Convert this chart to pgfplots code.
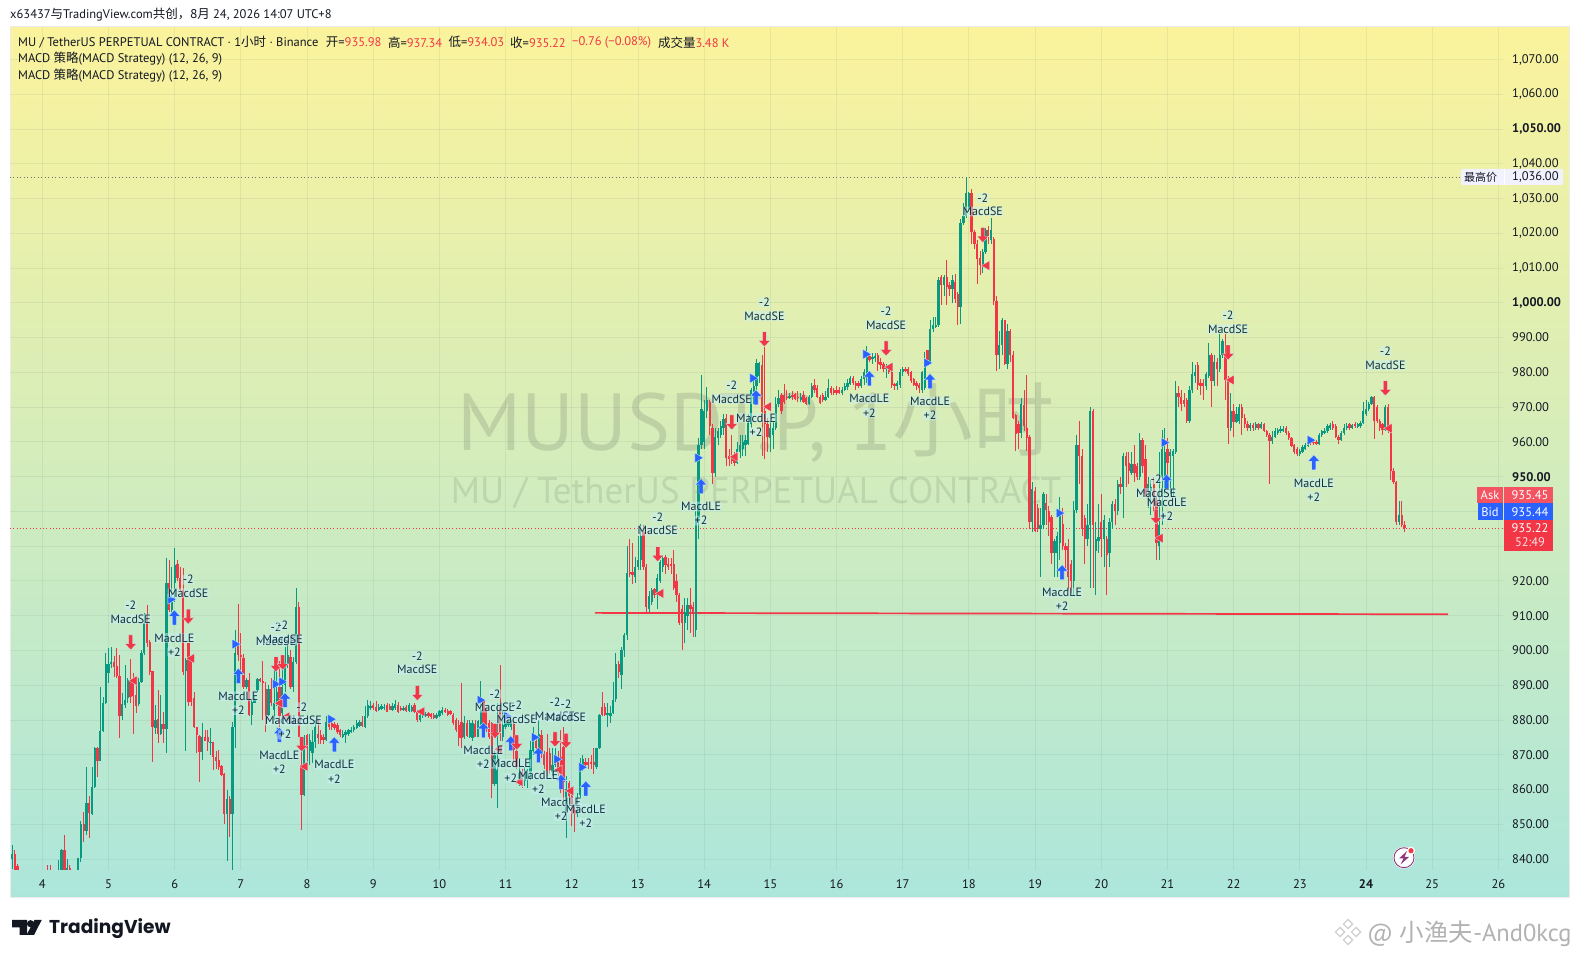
\documentclass[border=0pt]{standalone}
\usepackage{fontspec}
\usepackage{pgfplots}
\usepackage{pgfplotstable}
\pgfplotsset{compat=1.18}
\setmainfont{PT Sans}
\newfontfamily\cjk{Noto Sans CJK SC}
\newfontfamily\logofont{Poppins}
\definecolor{cup}{HTML}{089981}
\definecolor{cdn}{HTML}{F23645}
\definecolor{gtop}{HTML}{FBF39C}
\definecolor{gbot}{HTML}{ACE6DB}
\definecolor{ink}{HTML}{131722}
\definecolor{labink}{HTML}{12303F}
\definecolor{blu}{HTML}{2962FF}
\definecolor{halo}{HTML}{C9EFF2}
\pgfdeclareplotmark{uparr}{%
 \pgfpathmoveto{\pgfqpoint{0pt}{7.5pt}}\pgfpathlineto{\pgfqpoint{5.8pt}{1.2pt}}\pgfpathlineto{\pgfqpoint{2pt}{1.2pt}}%
 \pgfpathlineto{\pgfqpoint{2pt}{-7.5pt}}\pgfpathlineto{\pgfqpoint{-2pt}{-7.5pt}}\pgfpathlineto{\pgfqpoint{-2pt}{1.2pt}}%
 \pgfpathlineto{\pgfqpoint{-5.8pt}{1.2pt}}\pgfpathclose\pgfusepathqfillstroke}
\pgfdeclareplotmark{dnarr}{%
 \pgfpathmoveto{\pgfqpoint{0pt}{-7.5pt}}\pgfpathlineto{\pgfqpoint{5.8pt}{-1.2pt}}\pgfpathlineto{\pgfqpoint{2pt}{-1.2pt}}%
 \pgfpathlineto{\pgfqpoint{2pt}{7.5pt}}\pgfpathlineto{\pgfqpoint{-2pt}{7.5pt}}\pgfpathlineto{\pgfqpoint{-2pt}{-1.2pt}}%
 \pgfpathlineto{\pgfqpoint{-5.8pt}{-1.2pt}}\pgfpathclose\pgfusepathqfillstroke}
\pgfplotstableread{
t o h l c
85 840 844 837 841.5
86 841.5 842.5 834 835
87 838 838.7 830 832
98 836 838.2 834 835
99 836 838.2 834 835
102 835 839.7 834 836.8
103 836.8 842.9 835 842.5
104 842.5 846.9 835 836.5
105 836.5 840 834 837.5
106 837.5 838.3 834 835
109 835 840.3 833 840.3
110 840.3 850.8 839 850.2
111 850.2 853.6 845 848.1
112 848 866.5 847 856
113 856 858 846 853.1
114 853 866.5 852.6 860.8
115 860.8 872.3 860.3 871.8
116 871.8 872.3 863.7 868.3
117 868.3 889.6 868.3 876.9
118 876.9 886.7 876.6 884.8
119 884.8 899.2 884.7 896
120 893.4 900.6 890.5 896
121 896 901 895 896.8
122 896.8 898.4 892.4 895.3
123 895.5 900.6 892 892.6
124 892.6 898.7 874.7 881.2
125 881.2 887.7 880 884.6
126 884.2 895.8 883.3 885.7
127 886.2 892 885 891.5
128 891.5 897.4 885 886.7
129 891.5 893.4 876.1 886.9
130 887.2 890.5 881.9 884.1
131 884.7 892 884 891
132 891 900 890.5 899.4
133 899.2 910.9 898.7 907.8
134 907.8 913 901 902
135 902.5 903 893 893.7
136 894.2 894.2 868 878.1
137 877.8 884.3 876.1 879.9
138 880.3 888.6 873.3 876
139 876 887.2 875.7 878.8
140 878.8 882.4 873.3 877.4
141 877.4 926.5 870.4 919.3
142 919.3 926 911 911.6
143 911.6 924 911 914
144 919.3 929.4 914 924.6
145 924.8 926 920 920.7
146 920.7 924 917 917.4
147 917.4 923.6 893 893.9
148 894 897.7 871.2 897.2
149 902 902 884 885.3
150 897 898 884 885.3
151 886.2 888.1 877.6 877.9
152 878 878 870.4 875.7
153 875.4 875.7 862.2 870.9
154 870.9 879 868.5 875.2
155 875.2 877 874 874
156 875 877 871 873.6
157 873.5 877.8 870 873.8
158 873.8 873.8 865.6 869.2
159 869.4 871 866 868.3
160 868.5 871.3 865.6 866.5
161 866.8 867 864 864.2
162 864.4 864.6 850.2 853
163 853 859.8 839.5 857.2
164 857.2 858 846.4 853
165 853 879.5 836 878.1
166 878.1 905.9 871.8 899.2
167 901.5 913.4 897 898.7
168 898.7 905 893 898
169 897.7 899 889 889.6
170 889.6 892 889 891.5
171 891.5 893.4 881 881.4
172 881.4 885.7 878.5 885.3
173 885 887 885 886
174 888.6 892 888 891.7
175 891.7 892 891 891.3
176 891.2 897 880 890.7
177 889 891 876.4 881.4
178 881.4 890 881 889
179 889 892 884 884.8
180 883 895 880 885
181 885 898 884 888
182 889.6 897 878 881
183 882 895 879 889.6
184 890 901 888 896.3
185 896 903 895 898.7
186 898 900 889 889.6
187 889.6 898 888 896.8
188 896.8 917.9 896 912.6
189 912.6 914 876 875
190 867 875 848.3 858.4
191 858.4 875.7 858 875
192 875.7 876 866 871.8
193 871 876 867 874.2
194 870.4 877 867.5 873.8
195 873.8 880 872 878
196 876.1 880 873 874.7
197 875.6 877 873 874.2
198 875 876 873 874.2
199 874.2 881 874 879.5
200 879.5 881 877 877.9
201 879 880 877 877.9
202 878.8 879.5 877 877.6
203 878.6 879 876 876.6
204 877 877.5 875 875.7
205 875.2 877 874.7 876
206 875.6 877 873.5 876.4
207 876 877.5 875.5 877
208 876.6 878 876.2 877.2
209 877 878.5 876.5 878
210 877.8 880 877.5 879
211 878.3 880 878 879.4
212 879.5 881 878 878.3
213 878.1 884 878 881
214 881 885.6 880.5 884.3
215 883.3 885.5 883 884
216 884.3 885 883 883.3
217 883.8 885.5 882.2 882.7
218 883 884.5 882.7 883.6
219 883.2 884.6 882.9 884
220 883.4 884.5 883 883.8
221 884.4 885 882.2 882.4
222 884 884.5 882.8 883
223 883 885 882.7 884
224 883.5 885.7 883 884.5
225 884.4 885.2 882 882.3
226 883.5 884 882.5 882.8
227 882.8 884 882.5 883.5
228 883.7 884.2 882.4 882.7
229 882.7 885 882.4 884.4
230 882.6 884.2 882.3 883.8
231 884.4 885 882 882.4
232 882.4 883 879.5 880
233 880 881.8 879.5 881.4
234 881 882 880.6 881.6
235 881.2 882.2 880.8 881.8
236 882 882.4 880.6 881
237 881.6 882 880.3 880.9
238 881.5 882 880.2 880.5
239 880.5 882 880.2 881.5
240 881 883 880.8 882.5
241 882 883.8 881.5 883
242 882.9 883.4 882 882.3
243 882.7 883.2 881.2 881.5
244 882.5 883 881.4 881.7
245 881.5 882 878.6 879
246 880 880.5 876.5 877
247 878.5 880 872.5 874.7
248 879.4 890.6 872 874.7
249 875 881 874.6 879
250 879 880 875 875.5
251 875.2 880 875 879
252 874.7 880 874 879
253 878.8 880 875 875.2
254 875 880 875 879.6
255 878.8 891.3 878.5 883
256 885.4 886 874.7 875
257 883 883.5 876.5 877
258 879 880 874.5 875
259 879 879.5 857.6 861.7
260 861.7 871 861 870
261 861.7 885 854.6 865.6
262 883.7 895.8 874 876
263 875 883 874 878.6
264 878 881 877.5 879.3
265 878.5 880 878 879.5
266 878 880 877 879
267 878.8 880 868 871.4
268 871 871.5 866 866.6
269 862.5 866.5 861 864.6
270 865 866 860.5 862.5
271 862.5 866.5 861 865
272 863 866 860.5 864.5
273 865 874 862.7 871.4
274 871 878 870 875
275 874 875 871.5 872
276 870 880 869.8 876
277 875.6 877 869 870.4
278 870.4 871 866 867
279 870.9 876 864 865.1
280 870.4 872 864.5 865.6
281 865 872 864 867
282 867 872 866.5 870
283 868 871 864 864.7
284 869.4 877 859 860.3
285 872.3 878 857 862.2
286 852.6 864 846 860
287 861.8 862.5 857 858
288 858 859 849.5 853
289 854 855 847.7 853
290 853 859 852 853.7
291 858.4 869 857.4 866.1
292 866 870 865.3 868.9
293 868 869 866.5 867
294 867.8 869 866 867
295 868 870 866 867.2
296 868 872 864.4 867
297 866.5 872 866 871.8
298 871.8 881.8 871.5 881.4
299 883.8 888 881 881.4
300 883.8 885 881 881.4
301 881.4 885 878 882
302 881 884 879 882
303 882 891 881.7 885.7
304 886 899.4 885.3 896
305 896 897 892 893.9
306 893 901 889 900
307 900 905 898 904.4
308 904.4 930 903 922.2
309 922.5 932 921 922
310 922.5 930.8 919 921.6
311 921 927 919.5 924
312 924 933 923 926
313 926 936.5 923 933
314 934 936 923 924
315 924 925 910.8 912.6
316 912 917 911 915.6
317 914 918 913 917.5
318 917.6 918 915 916
319 916 922 912 920.8
320 920 926 919.5 925.5
321 924 927.5 922.5 926.5
322 927 927.5 922 924.5
323 925 926.5 923 924
324 925 926.5 922 924.4
325 925 929 917.5 918
326 920 922 914 916
327 916 916.5 907.3 908
328 912 913 900 908
329 908 915 902 911
330 910 915 906 913
331 913 918 905 912
332 912.5 914 904 911
333 906 940 904 938
334 938 961 932 959
335 959 979.3 958 969.5
336 960 972 958 969
337 969 975.9 967 972
338 971.5 972 962 964.5
339 964 965 948 951
340 951 964 950 961.3
341 961 964 959 963
342 962 966 961 964.5
343 964 968 962 966.5
344 967 968 953 955.5
345 956 958 953 955
346 955.5 962 953.5 954.5
347 955 957 953 954
348 954 960 953.6 958
349 957 962 955.5 959
350 958 962 956 960
351 959 962 956 960.5
352 959.5 968 959 965.5
353 965 975.5 964 975
354 972 979 971 976
355 976 983.8 975 982.6
356 979 983 977 982.6
357 982 985 956 968.5
358 969 987.4 955 965
359 965 967 957 961.5
360 961 966 957.2 964
361 962 966 958 964
362 964 973 963.5 971
363 971 975 970 972.5
364 973.5 974 968 969
365 973.5 976.7 971 971.5
366 973 975 972 972.6
367 972.6 974 972.2 973.2
368 973.5 974.5 972 972.8
369 973.7 974.2 972 972.4
370 973 974.5 971.5 972.5
371 972 974 971.5 973
372 973.5 974.5 971.3 971.6
373 972.5 973 970.7 971
374 971 973.5 970.5 973
375 973 977 972.5 976
376 976.5 978 974 975
377 975.5 976.5 972.5 973
378 973 973.5 971 971.2
379 973.5 974 971.5 972
380 972 974.5 971.7 973
381 973 978 972.5 975.5
382 975.5 976 973.5 974
383 975 975.6 973.6 974
384 975 976 973.5 974
385 975 975.8 973.7 974
386 974 975.8 973.5 975
387 975 977 974.5 976
388 975.8 978 975 977
389 976.7 979 976.5 978.5
390 978.5 979 976.5 976.8
391 977 977.5 975 976
392 977 977.5 975.5 976
393 976 979 975.5 978.2
394 978 981 976.5 980
395 980 987.5 977 984.4
396 984.8 985.5 983 983.5
397 983.7 985.5 982.5 984.5
398 984 985.6 983 984.6
399 985 985.5 980.5 982.5
400 983 984 981 982
401 982.5 983 980 981
402 981 982.5 978.5 981.8
403 981.5 982 979.5 980
404 980 981 975.5 976.5
405 976.7 977 975 976
406 976 977.5 974.8 976.8
407 976.5 981 975.5 980
408 980 981.5 979 981
409 981 981.5 980 980.5
410 981 981.5 979 979.5
411 980 980.5 977 977.5
412 978 978.5 976 976.5
413 977 977.5 975 976
414 976.5 977 974 975.5
415 975 980.5 974 980
416 975.4 985.8 975 983.7
417 986.5 986.5 983 983.6
418 983 995 983 992.4
419 992.4 996 991.5 993.5
420 993 996 992.8 993.7
421 993.6 1007.5 993 1006.6
422 1007.4 1008 999.5 1005
423 1005 1008 1002 1007.5
424 1007.5 1012.3 999.5 1004.5
425 1005 1006 1002 1004
426 1004 1008 1000 1006.7
427 1006 1008.2 1000 1001
428 1002.4 1003 993.7 998.7
429 998.7 1024 994 1023
430 1023 1028.6 1022.5 1025
431 1025 1036 1024.5 1031.6
432 1027 1032 1026 1031.6
433 1031.6 1032.8 1017 1020.4
434 1020.5 1021 1015.5 1016.8
435 1017 1018 1005.5 1012.5
436 1013 1015 1008 1011
437 1010.8 1015.5 1008.5 1014.7
438 1014.5 1021.5 1014 1021
439 1021 1022 1017 1019
440 1018 1024.5 1017 1021
441 1018.5 1019 999.5 1000.6
442 1000.6 1002 980.5 985
443 985 992 981 988
444 988 995.5 985 995
445 995 995 982 982.5
446 982.5 994 981 992
447 992 992.5 983 985
448 985 986 966.5 967
449 967.7 968 957.5 962.4
450 965 966 958 962.5
451 962.5 972.5 961 971
452 970.5 975 963 964.5
453 964 979.2 957.5 961
454 961.5 962 935 937
455 937 948.5 934 946.5
456 946 947 934 934.5
457 941 942 934 934.8
458 935 941 921 936
459 936 945.5 935 945
460 942.5 945 936 940.5
461 940 941.5 933 937
462 938.5 939 925 928
463 928 932 921 931.5
464 928 934 921 933
465 931 944 926 939
466 936.5 941 929 930
467 930 931 923 929
468 930 932 917.5 921
469 925 926 916.5 920
470 920 943 916 940.5
471 940.5 962 939.5 959
472 959 966 948 956
473 956 958 933 935
474 938 939 925 932
475 932 942 930 936
476 936 970 918 969
477 969 969.5 918 936
478 928.5 937 916 932
479 931.5 942 928 932.5
480 937 945 927 932
481 932 939 924 937.5
482 932 933 916 927.5
483 928 938 924 937
484 937 943 935 942
485 942 943.5 936 940
486 940 949 939 948
487 948 950 945 947
488 947 956.8 938 956
489 956 957 947 953
490 954 957 948 951.5
491 951 957 950.5 953.5
492 953.5 959 948.5 951
493 953 954 949 950
494 950 962.5 949 960.5
495 960.5 961 951 953
496 955 959 944 945
497 946 950 941 948
498 946 949 939 947
499 948 950 940 942
500 943 944 926 931
501 930 957 926 936
502 950 963.5 936 958
503 950 964 945 957
504 958 961 948 954
505 956 958 945 957
506 956 958 944 957.5
507 957 977.5 956.5 974
508 974 976 970 973
509 973 975 969 971
510 972 974 970 971
511 972 972.5 965.5 966
512 966 976 965.5 975
513 975 983 974 979.5
514 979 982 977 980
515 982 983 975 976.5
516 977 978 973.5 976
517 977 978 972 976
518 976 980 975 979.5
519 979 988.5 978.5 985
520 985 985.5 970 977.5
521 977.5 985 976 983
522 983 984 976 981
523 981 991 980 985
524 985 989.7 984 989
525 985 991 972 977.8
526 977.8 979 959.5 964
527 964 974 963 969
528 969 971 961.5 965.8
529 965.8 970 965.5 968
530 966 971 965 970
531 970 971 962 967
532 967 968 964 965
533 965 966 963 964
534 964 965.5 963 964.8
535 964.8 965.5 963 964
536 964 965.8 963.5 965
537 965 965.5 963.5 964
538 964 965.7 963.7 965
539 965 965.5 962.7 963
540 963 963.5 961.5 962
541 962 962.5 947.8 960.2
542 960.2 963 959.5 961.5
543 961.5 964 961 963
544 962.5 964 962 963.5
545 963 964.5 962.5 963.7
546 963.2 964.7 962.7 963.8
547 964 964.5 962 962.5
548 962.5 963 960.5 961
549 961 961.5 958.5 958.8
550 959 959.5 956.5 957
551 958 958.5 956 956.5
552 956.5 958 956 957.5
553 957 959 956.8 958.5
554 958 959.8 957.8 959
555 958.8 960.5 958.5 960
556 960 960.6 959.2 959.7
557 960 960.6 959.2 959.6
558 960 960.5 959 959.3
559 959.3 962.5 959 962
560 962 963.5 961.5 963
561 962.5 964 962.3 963
562 963 965 962.5 964.5
563 964 965.5 963.5 964.8
564 965 966 963.5 964
565 964.5 965 961 961.5
566 961.5 962 959.5 960.5
567 960.5 963 960.3 962.5
568 962.5 965 962 964
569 964 965.5 963.5 964.6
570 965 965.5 963.5 964
571 964 965 963.7 964.8
572 965 965.7 964 964.5
573 964.4 965.5 964 965
574 964.5 966 964 965.5
575 965.5 971.5 965 969
576 968 972 967.5 969.5
577 969.5 971.5 969 971
578 971 973.2 970.5 973
579 973 973.3 960.9 966
580 970 970.5 965.5 966
581 966 966.5 963 964
582 965 965.5 962 963.5
583 963.5 970.5 963 970
584 970 970.8 962.5 963
585 963 963.5 949 951.7
586 951.7 952.5 947.8 948.4
587 948.4 948.8 936 937
588 937 943 936 939
589 939 943 935.5 936
590 935.98 937.34 934.03 935.22
}\candles
\pgfplotstableread{
d p
5.995 909.5
6.962 892.7
7.667 885.7
7.581 875.7
8.412 873
10.664 877.1
11.078 873.3
11.495 869.9
11.838 862.2
12.211 860.3
13.953 947.3
14.784 972.8
16.496 978.3
17.413 977.5
19.408 922.5
20.99 948.5
23.211 954.1
}\longs
\pgfplotstableread{
d p
5.336 902.3
6.206 909.7
7.531 896
7.632 896.5
7.92 873
9.666 887.7
10.84 876.8
11.168 873.5
11.747 874.4
11.913 874
13.299 927.7
14.417 965.6
14.91 989.5
16.749 986.9
18.21 1019.5
20.829 938.5
21.916 985.7
24.293 975.4
}\shorts
\pgfplotstableread{
d p
6.912 901.8
5.94 914.7
7.521 890.3
7.617 891
7.581 876.6
8.358 880.2
10.614 885.7
11.017 881.1
11.434 875
11.773 868.7
12.15 866.4
13.903 955.4
14.734 978.3
16.442 985.2
17.364 982.7
19.363 939.5
20.949 959.8
23.155 960.5
}\bluetri
\pgfplotstableread{
d p
5.39 891.3
6.257 897.7
7.592 884.8
7.693 880.9
7.969 866.6
9.733 882.4
10.905 871.6
11.218 862.2
11.812 865.6
11.984 859.6
13.344 916.4
14.467 955.7
14.97 970.1
16.809 981.5
18.27 1010.7
20.889 932.3
21.962 977.8
24.349 963.9
}\redtri
\newcommand\tf{\fontsize{12}{14}\selectfont}
\newcommand\hf{\fontsize{12.5}{14}\selectfont}
\tikzset{siglab/.style={font=\tf,text=labink,anchor=center,fill=halo,fill opacity=.5,text opacity=1,inner sep=.6pt,rounded corners=1pt}}
\begin{document}
\begin{tikzpicture}[x=1pt,y=1pt]
\path[use as bounding box,fill=white] (0,0) rectangle (1579,958);
\shade[top color=gtop,bottom color=gbot,draw=black!8,line width=.8pt] (10,60.3) rectangle (1569.3,931.3);
% watermark
\node[anchor=center,inner sep=0,text=black!75,opacity=.16,font=\fontsize{81}{90}\selectfont] at (756,535) {MUUSDT.P, 1{\cjk 小时}};
\node[anchor=center,inner sep=0,text=black!75,opacity=.13,font=\fontsize{37}{40}\selectfont] at (756,465) {MU / TetherUS PERPETUAL CONTRACT};
\begin{axis}[at={(10pt,88.3pt)},anchor=south west,scale only axis,width=1493pt,height=843pt,
 xmin=3.512,xmax=26.07,ymin=836.92,ymax=1079.44,
 xtick={4,5,...,26},
 xticklabels={4,5,6,7,8,9,10,11,12,13,14,15,16,17,18,19,20,21,22,23,\textbf{24},25,26},
 ytick={840,850,...,1070},
 yticklabels={840.00,850.00,860.00,870.00,880.00,890.00,900.00,910.00,920.00,{},{},\textbf{950.00},960.00,970.00,980.00,990.00,\textbf{{1,000.00}},{1,010.00},{1,020.00},{1,030.00},{1,040.00},\textbf{{1,050.00}},{1,060.00},{1,070.00}},
 yticklabel pos=right,
 axis line style={draw=none},major tick length=0pt,
 grid=major,grid style={draw=black!45!gbot,opacity=.11,line width=.9pt},
 tick label style={font=\hf,text=ink,inner sep=0pt},
 xticklabel style={anchor=center,yshift=-14.5pt},
 yticklabel style={anchor=west,xshift=9pt},
 unbounded coords=discard,
 every axis plot/.append style={forget plot}]
% dotted reference lines
\addplot[black!55,line width=.7pt,dash pattern=on .9pt off 2.6pt] coordinates {(3.512,1036) (26.07,1036)};
\addplot[cdn,line width=.8pt,dash pattern=on .9pt off 2.4pt] coordinates {(3.512,935.22) (26.07,935.22)};
% horizontal level
\addplot[cdn,line width=1.7pt] coordinates {(12.35,910.8) (25.24,910.4)};
% wicks
\addplot[draw=none,mark=none,error bars/.cd,y dir=both,y explicit,error mark=none,error bar style={draw=cup,line width=.85pt}]
 table[x expr=\thisrow{t}/24,y expr={\thisrow{c}>=\thisrow{o}?\thisrow{o}:nan},y error plus expr=\thisrow{h}-\thisrow{o},y error minus expr=\thisrow{o}-\thisrow{l}] {\candles};
\addplot[draw=none,mark=none,error bars/.cd,y dir=both,y explicit,error mark=none,error bar style={draw=cdn,line width=.85pt}]
 table[x expr=\thisrow{t}/24,y expr={\thisrow{c}<\thisrow{o}?\thisrow{o}:nan},y error plus expr=\thisrow{h}-\thisrow{o},y error minus expr=\thisrow{o}-\thisrow{l}] {\candles};
% bodies
\addplot[draw=none,mark=none,error bars/.cd,y dir=plus,y explicit,error mark=none,error bar style={draw=cup,line width=2.3pt}]
 table[x expr=\thisrow{t}/24,y expr={\thisrow{c}>=\thisrow{o}?\thisrow{o}:nan},y error plus expr={max(\thisrow{c}-\thisrow{o},0.3)},y error minus expr=0] {\candles};
\addplot[draw=none,mark=none,error bars/.cd,y dir=minus,y explicit,error mark=none,error bar style={draw=cdn,line width=2.3pt}]
 table[x expr=\thisrow{t}/24,y expr={\thisrow{c}<\thisrow{o}?\thisrow{o}:nan},y error plus expr=0,y error minus expr={max(\thisrow{o}-\thisrow{c},0.3)}] {\candles};
% signal marks
\addplot[only marks,mark=triangle*,mark size=5.6pt,mark options={rotate=-90,fill=blu,draw=halo,line width=.3pt}] table[x=d,y=p] {\bluetri};
\addplot[only marks,mark=triangle*,mark size=5.6pt,mark options={rotate=90,fill=cdn,draw=halo,line width=.3pt}] table[x=d,y=p] {\redtri};
\addplot[only marks,mark=uparr,mark options={fill=blu,draw=halo,line width=.3pt}] table[x=d,y=p] {\longs};
\addplot[only marks,mark=dnarr,mark options={fill=cdn,draw=halo,line width=.3pt}] table[x=d,y=p] {\shorts};
% signal labels
\addplot[draw=none,mark=none,nodes near coords={MacdLE},every node near coord/.style={siglab,yshift=-20.5pt}] table[x=d,y=p] {\longs};
\addplot[draw=none,mark=none,nodes near coords={+2},every node near coord/.style={siglab,yshift=-34.5pt}] table[x=d,y=p] {\longs};
\addplot[draw=none,mark=none,nodes near coords={MacdSE},every node near coord/.style={siglab,yshift=23.5pt}] table[x=d,y=p] {\shorts};
\addplot[draw=none,mark=none,nodes near coords={-2},every node near coord/.style={siglab,yshift=37pt}] table[x=d,y=p] {\shorts};
\end{axis}
% top text
\node[anchor=west,inner sep=0,font=\hf,text=ink] at (10,943) {x63437{\cjk 与}TradingView.com{\cjk 共创，8月} 24, 2026 14:07 UTC+8};
\node[anchor=west,inner sep=0,font=\hf,text=ink] at (18,915.7) {MU / TetherUS PERPETUAL CONTRACT · 1{\cjk 小时} · Binance};
\node[anchor=west,inner sep=0,font=\hf,text=ink] at (325.7,915.7) {{\cjk 开}=\textcolor{cdn}{935.98}};
\node[anchor=west,inner sep=0,font=\hf,text=ink] at (387.8,915.7) {{\cjk 高}=\textcolor{cdn}{937.34}};
\node[anchor=west,inner sep=0,font=\hf,text=ink] at (448.4,915.7) {{\cjk 低}=\textcolor{cdn}{934.03}};
\node[anchor=west,inner sep=0,font=\hf,text=ink] at (510,915.7) {{\cjk 收}=\textcolor{cdn}{935.22}};
\node[anchor=west,inner sep=0,font=\hf,text=cdn] at (572,915.7) {−0.76 (−0.08\%)};
\node[anchor=west,inner sep=0,font=\hf,text=ink] at (657.8,915.7) {{\cjk 成交量}\textcolor{cdn}{3.48 K}};
\node[anchor=west,inner sep=0,font=\hf,text=ink] at (18,899) {MACD {\cjk 策略}(MACD Strategy) (12, 26, 9)};
\node[anchor=west,inner sep=0,font=\hf,text=ink] at (18,882) {MACD {\cjk 策略}(MACD Strategy) (12, 26, 9)};
% right tags
\fill[fill=black!10!blue!5,rounded corners=1.5pt] (1461,773) rectangle (1563,789);
\draw[white,line width=.8pt] (1504,773) -- (1504,789);
\node[anchor=west,inner sep=0,font=\hf,text=ink] at (1464,781) {{\cjk\fontsize{11}{12}\selectfont 最高价}};
\node[anchor=west,inner sep=0,font=\hf,text=ink] at (1512,781) {1,036.00};
\fill[cdn!85!white] (1477,454.7) rectangle (1503,471.3);
\fill[cdn!85!white] (1504,454.7) rectangle (1553,471.3);
\fill[blu] (1478,438) rectangle (1503,454.7);
\fill[blu] (1504,438) rectangle (1553,454.7);
\fill[cdn] (1504,407.3) rectangle (1553,438);
\node[inner sep=0,font=\hf,text=white] at (1490,463) {Ask};
\node[inner sep=0,font=\hf,text=white] at (1530,463) {935.45};
\node[inner sep=0,font=\hf,text=white] at (1490,446.3) {Bid};
\node[inner sep=0,font=\hf,text=white] at (1530,446.3) {935.44};
\node[inner sep=0,font=\hf,text=white] at (1530,430) {935.22};
\node[inner sep=0,font=\hf,text=white!85!cdn] at (1530,416) {52:49};
% flash icon
\fill[white] (1404,100.3) circle (11);
\draw[black!35!magenta!75!blue,line width=.9pt] (1404,100.3) circle (10);
\fill[black!35!magenta!75!blue] (1407,107) -- (1399,99.5) -- (1403.5,99.5) -- (1400.5,93.5) -- (1409,101) -- (1404.5,101) -- cycle;
\fill[white] (1411,107.3) circle (4);
\fill[cdn] (1411,107.3) circle (2.6);
% TradingView logo
\fill[ink] (12,38) -- (27,38) -- (27,23) -- (19.5,23) -- (19.5,30.5) -- (12,30.5) -- cycle;
\fill[ink] (30.5,34.3) circle (3.6);
\fill[ink] (34.5,38) -- (41.7,38) -- (34,23) -- (26.5,23) -- cycle;
\node[anchor=west,inner sep=0,font=\logofont\fontsize{18.6}{22}\selectfont\bfseries,text=ink] at (49,29) {TradingView};
% corner watermark
\begin{scope}[shift={(1348,26)}]
\foreach \a/\b in {0/8,-8/0,8/0,0/-8}{\draw[black!18,line width=1.4pt,rotate around={45:(\a,\b)}] (\a-3.2,\b-3.2) rectangle (\a+3.2,\b+3.2);}
\end{scope}
\node[anchor=west,inner sep=0,text=black!30,font=\fontsize{24.5}{26}\selectfont] at (1367,24) {@ {\cjk 小渔夫}-And0kcg};
\end{tikzpicture}
\end{document}
